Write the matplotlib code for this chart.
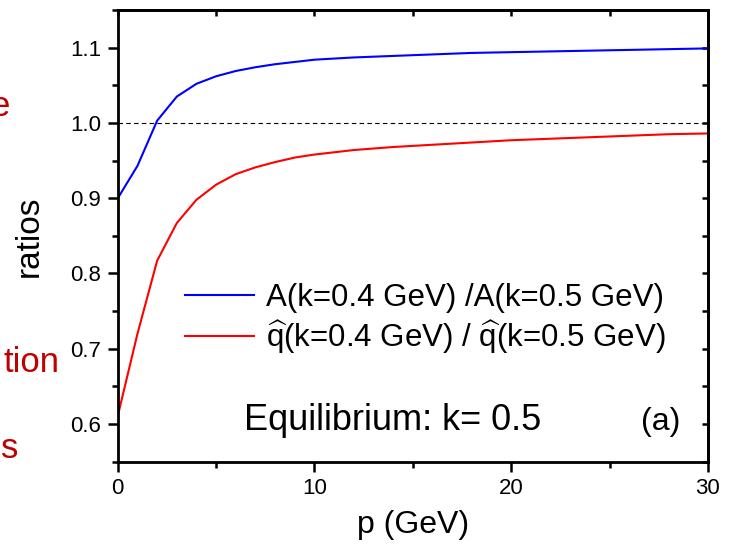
import numpy as np
import matplotlib
matplotlib.use("Agg")
import matplotlib.pyplot as plt
from matplotlib.ticker import MultipleLocator

# values
p = [0, 1, 2, 3, 4, 5, 6, 7, 8, 9, 10, 12, 14, 16, 18, 20, 22, 24, 26, 28, 30]
ratio_A = [0.900, 0.943, 1.003, 1.035, 1.052, 1.062, 1.069, 1.074, 1.078, 1.081, 1.084,
           1.087, 1.089, 1.091, 1.093, 1.094, 1.095, 1.096, 1.097, 1.098, 1.099]
ratio_qhat = [0.611, 0.720, 0.817, 0.867, 0.898, 0.918, 0.932, 0.941, 0.948, 0.954, 0.958,
              0.964, 0.968, 0.971, 0.974, 0.977, 0.979, 0.981, 0.983, 0.985, 0.986]
label_A = "A(k=0.4 GeV) /A(k=0.5 GeV)"
label_q = r"$\widehat{\mathrm{q}}$(k=0.4 GeV) / $\widehat{\mathrm{q}}$(k=0.5 GeV)"

plt.rcParams['font.family'] = ['Liberation Sans', 'DejaVu Sans']
plt.rcParams['mathtext.fontset'] = 'custom'
plt.rcParams['mathtext.rm'] = 'Liberation Sans'
plt.rcParams['mathtext.it'] = 'Liberation Sans:italic'

fig = plt.figure(figsize=(7.29, 5.47), dpi=100)
ax = fig.add_axes([0.1616, 0.156, 0.8094, 0.8257])

ax.plot(p, ratio_A, color='#0000ff', lw=1.5, label=label_A)
ax.plot(p, ratio_qhat, color='#ff0000', lw=1.5, label=label_q)
ax.axhline(1.0, color='black', lw=0.8, dashes=(4, 3))

ax.set_xlim(0, 30)
ax.set_ylim(0.55, 1.15)
ax.xaxis.set_major_locator(MultipleLocator(10))
ax.xaxis.set_minor_locator(MultipleLocator(5))
ax.yaxis.set_major_locator(MultipleLocator(0.1))
ax.yaxis.set_minor_locator(MultipleLocator(0.05))
ax.yaxis.set_major_formatter(matplotlib.ticker.FormatStrFormatter('%.1f'))

for s in ax.spines.values():
    s.set_linewidth(2)
ax.tick_params(which='major', direction='out', length=7, width=1.8, labelsize=16, pad=5)
ax.tick_params(which='minor', direction='out', length=4, width=1.8)

# mirror ticks on top and right, pointing inward
top = ax.secondary_xaxis('top')
top.xaxis.set_major_locator(MultipleLocator(10))
top.xaxis.set_minor_locator(MultipleLocator(5))
top.tick_params(which='both', direction='in', length=4, width=1.8, labeltop=False)
right = ax.secondary_yaxis('right')
right.yaxis.set_major_locator(MultipleLocator(0.1))
right.yaxis.set_minor_locator(MultipleLocator(0.05))
right.tick_params(which='both', direction='in', length=4, width=1.8, labelright=False)
for sec in (top, right):
    for s in sec.spines.values():
        s.set_linewidth(2)

ax.set_xlabel("p (GeV)", fontsize=23, labelpad=8)
ax.set_ylabel("ratios", fontsize=24, labelpad=18)

ax.legend(loc='center left', bbox_to_anchor=(0.114, 0.315), frameon=False,
          fontsize=22.5, handlelength=2.2, handletextpad=0.4, labelspacing=0.15,
          borderpad=0, borderaxespad=0)

ax.text(6.4, 0.605, "Equilibrium: k= 0.5", fontsize=26, ha='left', va='center')
ax.text(27.6, 0.603, "(a)", fontsize=23, ha='center', va='center')

# cut-off slide text at the left edge
fig.text(10 / 729, 1 - 107 / 547, "e", color='#c00000', fontsize=25, ha='right', va='center')
fig.text(60 / 729, 1 - 362 / 547, "tion", color='#c00000', fontsize=25, ha='right', va='center')
fig.text(18 / 729, 1 - 448 / 547, "s", color='#c00000', fontsize=25, ha='right', va='center')

fig.savefig("out.png", dpi=100)
